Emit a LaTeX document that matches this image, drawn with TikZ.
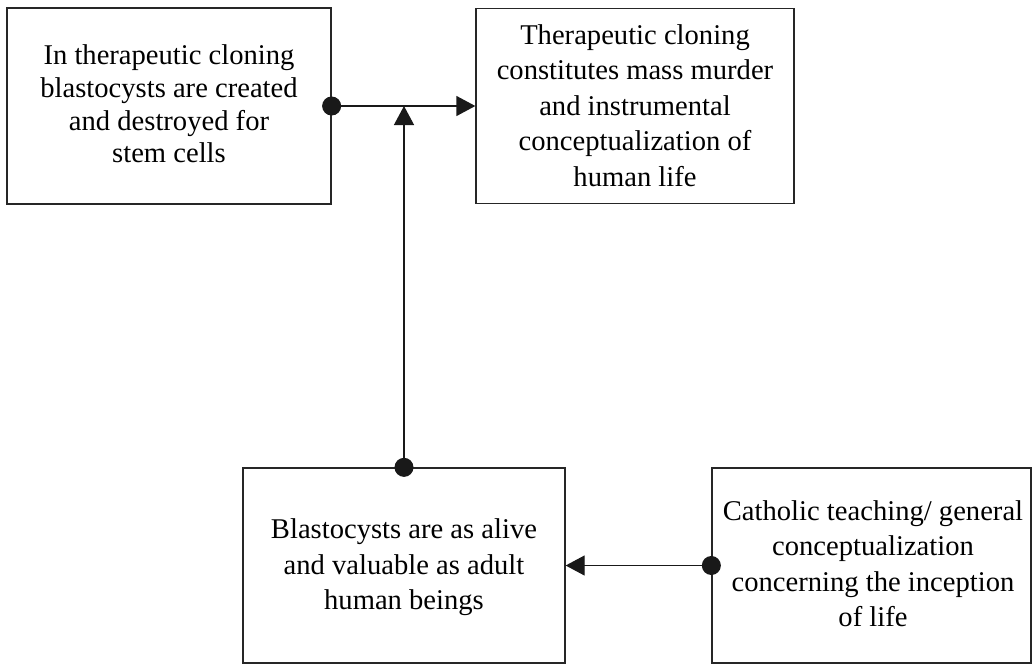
\documentclass[tikz,border=0pt]{standalone}
\usepackage{fontspec}
\setmainfont{Liberation Serif}
\usetikzlibrary{arrows.meta}
\begin{document}
\begin{tikzpicture}[x=1pt,y=-1pt,
  box/.style={draw=black!85, line width=1.3pt, rectangle, inner sep=0pt},
  txt/.style={align=center, inner sep=0pt, font=\fontsize{28.6}{35.5}\selectfont},
  tighttxt/.style={txt, font=\fontsize{28.6}{32.6}\selectfont},
  conn/.style={draw=black!90, line width=1.3pt,
    {Circle[length=19pt,width=19pt]}-{Triangle[length=19pt,width=20pt]},
    shorten <=-9.5pt}]
  \useasboundingbox (0,0) rectangle (1033,664);
  % claim boxes
  \node[box, minimum width=324pt, minimum height=196pt] (A) at (169,106) {};
  \node[box, minimum width=318pt, minimum height=195pt] (B) at (635,106) {};
  \node[box, minimum width=322pt, minimum height=195pt] (C) at (404,565.5) {};
  \node[box, minimum width=319pt, minimum height=195pt] (D) at (871.5,565.5) {};
  % their texts
  \node[tighttxt] (tA) at (169,104)
    {In therapeutic cloning\\blastocysts are created\\and destroyed for\\stem cells};
  \node[txt] (tB) at (635,105.5)
    {Therapeutic cloning\\constitutes mass murder\\and instrumental\\conceptualization of\\human life};
  \node[txt] (tC) at (404,567.5)
    {Blastocysts are as alive\\and valuable as adult\\human beings};
  \node[txt] (tD) at (873,563.5)
    {Catholic teaching/ general\\conceptualization\\concerning the inception\\of life};
  % connectors
  \coordinate (J) at (C.north |- A.east);
  \draw[conn] (A.east) -- (B.west);
  \draw[conn] (C.north) -- (J);
  \draw[conn] (D.west) -- (C.east);
\end{tikzpicture}
\end{document}
